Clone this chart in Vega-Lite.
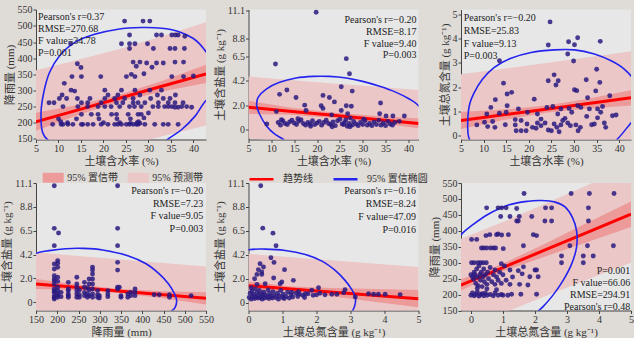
{
"$schema": "https://vega.github.io/schema/vega-lite/v6.json",
"background": "#dfdbd7",
"padding": {"left": 1, "top": 4.5, "right": 0, "bottom": 0},
"columns": 3,
"spacing": {"row": 43.5, "column": 42.5},
"bounds": "flush",
"datasets": {
"f1": [{"x":5,"fit":203,"clo":175,"chi":231,"plo":43,"phi":363},{"x":14,"fit":238.4,"clo":222.4,"chi":254.4,"plo":83.4,"phi":393.4},{"x":23.5,"fit":275.7,"clo":264.7,"chi":286.7,"plo":122.7,"phi":428.7},{"x":33,"fit":313,"clo":297,"chi":329,"plo":158,"phi":468},{"x":42.8,"fit":351.5,"clo":323.5,"chi":379.5,"plo":191.5,"phi":511.5}],
"f2": [{"x":5,"fit":2.1,"clo":1.5,"chi":2.7,"plo":-0.76,"phi":4.96},{"x":14,"fit":1.74,"clo":1.4,"chi":2.08,"plo":-1.14,"phi":4.62},{"x":23.5,"fit":1.36,"clo":1.11,"chi":1.61,"plo":-1.58,"phi":4.3},{"x":33,"fit":0.98,"clo":0.66,"chi":1.3,"plo":-2.04,"phi":4.0},{"x":42.2,"fit":0.61,"clo":0.15,"chi":1.07,"plo":-2.48,"phi":3.7}],
"f3": [{"x":5,"fit":0.62,"clo":0.27,"chi":0.97,"plo":-1.29,"phi":2.53},{"x":14.4,"fit":0.854,"clo":0.64,"chi":1.07,"plo":-1.05,"phi":2.75},{"x":23.8,"fit":1.088,"clo":0.94,"chi":1.24,"plo":-0.82,"phi":2.99},{"x":33.2,"fit":1.322,"clo":1.12,"chi":1.52,"plo":-0.59,"phi":3.23},{"x":42.6,"fit":1.556,"clo":1.24,"chi":1.87,"plo":-0.36,"phi":3.47}],
"f4": [{"x":150,"fit":1.71,"clo":1.24,"chi":2.18,"plo":-1.23,"phi":4.65},{"x":250,"fit":1.375,"clo":1.12,"chi":1.63,"plo":-1.57,"phi":4.32},{"x":350,"fit":1.04,"clo":0.84,"chi":1.24,"plo":-1.9,"phi":3.98},{"x":450,"fit":0.705,"clo":0.38,"chi":1.03,"plo":-2.25,"phi":3.66},{"x":550,"fit":0.37,"clo":-0.2,"chi":0.94,"plo":-2.6,"phi":3.34}],
"f5": [{"x":0,"fit":1.6,"clo":1.21,"chi":1.99,"plo":-1.35,"phi":4.55},{"x":1.25,"fit":1.3,"clo":1.08,"chi":1.52,"plo":-1.62,"phi":4.22},{"x":2.5,"fit":0.995,"clo":0.6,"chi":1.39,"plo":-1.93,"phi":3.92},{"x":3.75,"fit":0.69,"clo":0.09,"chi":1.29,"plo":-2.25,"phi":3.63},{"x":5,"fit":0.39,"clo":-0.41,"chi":1.19,"plo":-2.55,"phi":3.33}],
"f6": [{"x":-0.31,"fit":230,"clo":213,"chi":248,"plo":85,"phi":375},{"x":1,"fit":284.8,"clo":273,"chi":297,"plo":141.8,"phi":427.8},{"x":2.3,"fit":339.1,"clo":319,"chi":359,"plo":194.1,"phi":484.1},{"x":3.6,"fit":393.5,"clo":363.5,"chi":423.5,"plo":245.5,"phi":541.5},{"x":5,"fit":452,"clo":412,"chi":492,"plo":300,"phi":604}],
"e1": [{"i":0,"x":6.49,"y":169},{"i":1,"x":6.12,"y":231},{"i":2,"x":6.71,"y":293},{"i":3,"x":7.98,"y":355},{"i":4,"x":10.21,"y":407},{"i":5,"x":13.56,"y":448.5},{"i":6,"x":18.03,"y":474},{"i":7,"x":23.24,"y":490},{"i":8,"x":28.45,"y":495},{"i":9,"x":32.92,"y":493},{"i":10,"x":36.65,"y":483},{"i":11,"x":40.0,"y":461},{"i":12,"x":42.38,"y":428},{"i":13,"x":44.8,"y":376},{"i":14,"x":45.6,"y":314},{"i":15,"x":42.38,"y":262},{"i":16,"x":40.37,"y":220.5},{"i":17,"x":37.4,"y":179},{"i":18,"x":34.4,"y":150},{"i":19,"x":31.4,"y":117},{"i":20,"x":27,"y":96},{"i":21,"x":19.5,"y":86},{"i":22,"x":12.1,"y":107},{"i":23,"x":8.35,"y":138}],
"e2": [{"i":0,"x":12.5,"y":-0.83},{"i":1,"x":10.7,"y":-0.37},{"i":2,"x":8.9,"y":0.4},{"i":3,"x":7.4,"y":1.48},{"i":4,"x":6.8,"y":2.25},{"i":5,"x":7.1,"y":3.02},{"i":6,"x":8.9,"y":3.79},{"i":7,"x":11.8,"y":4.41},{"i":8,"x":15.4,"y":4.81},{"i":9,"x":19.1,"y":4.96},{"i":10,"x":22.7,"y":4.96},{"i":11,"x":26.4,"y":4.81},{"i":12,"x":30,"y":4.5},{"i":13,"x":33.7,"y":4.04},{"i":14,"x":37.3,"y":3.48},{"i":15,"x":40.2,"y":2.87},{"i":16,"x":42.05,"y":2.31},{"i":17,"x":44.6,"y":1.0},{"i":18,"x":45.3,"y":-0.2},{"i":19,"x":43.9,"y":-1.45},{"i":20,"x":37.3,"y":-2.7},{"i":21,"x":26.4,"y":-3.0},{"i":22,"x":17.6,"y":-2.4},{"i":23,"x":14,"y":-1.45}],
"e3": [{"i":0,"x":6.84,"y":-0.14},{"i":1,"x":6.47,"y":0.41},{"i":2,"x":6.84,"y":1.23},{"i":3,"x":7.95,"y":1.78},{"i":4,"x":9.79,"y":2.33},{"i":5,"x":12.37,"y":2.81},{"i":6,"x":16.05,"y":3.18},{"i":7,"x":20.5,"y":3.42},{"i":8,"x":25.6,"y":3.53},{"i":9,"x":30.1,"y":3.53},{"i":10,"x":34.5,"y":3.36},{"i":11,"x":38.2,"y":3.08},{"i":12,"x":41.1,"y":2.74},{"i":13,"x":43.3,"y":2.26},{"i":14,"x":44.8,"y":1.5},{"i":15,"x":44.1,"y":0.82},{"i":16,"x":42.4,"y":0.48},{"i":17,"x":39.6,"y":-0.14},{"i":18,"x":36,"y":-0.68},{"i":19,"x":25.6,"y":-1.23},{"i":20,"x":14.6,"y":-0.96},{"i":21,"x":8.7,"y":-0.55}],
"e4": [{"i":0,"x":150,"y":4.56},{"i":1,"x":181,"y":4.81},{"i":2,"x":220,"y":4.99},{"i":3,"x":260,"y":5.02},{"i":4,"x":307,"y":4.87},{"i":5,"x":366,"y":4.34},{"i":6,"x":410,"y":3.57},{"i":7,"x":440,"y":2.64},{"i":8,"x":462,"y":1.7},{"i":9,"x":476,"y":0.78},{"i":10,"x":481,"y":0.16},{"i":11,"x":477,"y":-0.5},{"i":12,"x":466,"y":-0.9},{"i":13,"x":432,"y":-1.9},{"i":14,"x":345,"y":-3.0},{"i":15,"x":230,"y":-3.3},{"i":16,"x":130,"y":-2.6},{"i":17,"x":80,"y":-0.8},{"i":18,"x":80,"y":1.8},{"i":19,"x":110,"y":3.8}],
"e5": [{"i":0,"x":0,"y":4.92},{"i":1,"x":0.49,"y":4.98},{"i":2,"x":1.08,"y":4.86},{"i":3,"x":1.67,"y":4.49},{"i":4,"x":2.16,"y":3.87},{"i":5,"x":2.55,"y":3.01},{"i":6,"x":2.84,"y":2.09},{"i":7,"x":3.04,"y":1.23},{"i":8,"x":3.14,"y":0.55},{"i":9,"x":3.14,"y":-0.06},{"i":10,"x":3.07,"y":-0.68},{"i":11,"x":2.84,"y":-1.6},{"i":12,"x":1.86,"y":-2.83},{"i":13,"x":0.39,"y":-3.14},{"i":14,"x":-1.08,"y":-2.52},{"i":15,"x":-1.86,"y":0},{"i":16,"x":-1.67,"y":2.7},{"i":17,"x":-0.88,"y":4.4}],
"e6": [{"i":0,"x":-0.31,"y":388},{"i":1,"x":0.02,"y":416},{"i":2,"x":0.54,"y":452},{"i":3,"x":1.17,"y":481},{"i":4,"x":1.79,"y":493},{"i":5,"x":2.21,"y":495},{"i":6,"x":2.63,"y":490},{"i":7,"x":2.94,"y":475},{"i":8,"x":3.17,"y":442},{"i":9,"x":3.3,"y":400},{"i":10,"x":3.3,"y":349},{"i":11,"x":3.15,"y":297},{"i":12,"x":2.89,"y":246},{"i":13,"x":2.57,"y":199},{"i":14,"x":2.26,"y":163},{"i":15,"x":2.05,"y":143},{"i":16,"x":1.58,"y":91},{"i":17,"x":0.54,"y":50},{"i":18,"x":-0.5,"y":60},{"i":19,"x":-1.13,"y":143},{"i":20,"x":-1.13,"y":246},{"i":21,"x":-0.81,"y":328}],
"p1": [{"x":24.7,"y":515},{"x":28.8,"y":515},{"x":30.3,"y":515},{"x":12.7,"y":445},{"x":24,"y":445},{"x":25.8,"y":445},{"x":27,"y":445},{"x":29.8,"y":445},{"x":25.8,"y":472},{"x":31.8,"y":472},{"x":32.9,"y":472},{"x":35.2,"y":472},{"x":36,"y":472},{"x":36.6,"y":472},{"x":38.1,"y":468},{"x":25.8,"y":430},{"x":31.1,"y":430},{"x":34.8,"y":430},{"x":35.9,"y":430},{"x":38,"y":430},{"x":14.2,"y":383},{"x":15,"y":371},{"x":26.6,"y":388},{"x":28.1,"y":388},{"x":29.6,"y":385},{"x":31.8,"y":385},{"x":33.3,"y":385},{"x":35.9,"y":388},{"x":37.8,"y":388},{"x":27.3,"y":375},{"x":30.8,"y":372},{"x":26.2,"y":350},{"x":29,"y":352},{"x":13,"y":343},{"x":15.1,"y":343},{"x":19.4,"y":343},{"x":25.1,"y":343},{"x":27,"y":343},{"x":35.2,"y":343},{"x":37.8,"y":343},{"x":40,"y":345},{"x":11.3,"y":322},{"x":12.8,"y":301},{"x":10.8,"y":286},{"x":13.6,"y":298},{"x":10.2,"y":275},{"x":11.8,"y":275},{"x":14.2,"y":275},{"x":17,"y":275},{"x":20.3,"y":275},{"x":22.5,"y":275},{"x":24.7,"y":275},{"x":26.6,"y":275},{"x":30.5,"y":275},{"x":33.3,"y":275},{"x":34.8,"y":275},{"x":21,"y":286},{"x":23.2,"y":286},{"x":28.1,"y":286},{"x":32,"y":286},{"x":36,"y":286},{"x":20.3,"y":301},{"x":24,"y":301},{"x":27,"y":301},{"x":30.3,"y":301},{"x":32.9,"y":301},{"x":7.9,"y":262},{"x":9,"y":262},{"x":15.1,"y":262},{"x":16.5,"y":262},{"x":19.5,"y":262},{"x":22.9,"y":262},{"x":24.3,"y":262},{"x":26.6,"y":262},{"x":27.7,"y":262},{"x":29.2,"y":262},{"x":32.2,"y":262},{"x":34.4,"y":262},{"x":35.9,"y":262},{"x":37.7,"y":262},{"x":11,"y":250},{"x":14.3,"y":250},{"x":16.5,"y":250},{"x":18.8,"y":250},{"x":20.3,"y":250},{"x":21.7,"y":250},{"x":23.6,"y":250},{"x":25.8,"y":250},{"x":26.9,"y":250},{"x":28.4,"y":250},{"x":31,"y":250},{"x":32.2,"y":250},{"x":33.6,"y":250},{"x":34.4,"y":250},{"x":35.2,"y":250},{"x":35.9,"y":248},{"x":36.6,"y":248},{"x":37.4,"y":250},{"x":38.5,"y":250},{"x":39.6,"y":248},{"x":15.1,"y":226},{"x":17.3,"y":226},{"x":18.8,"y":226},{"x":21.8,"y":226},{"x":22.9,"y":226},{"x":25.5,"y":226},{"x":27.7,"y":226},{"x":28.4,"y":226},{"x":30,"y":230},{"x":10,"y":212},{"x":14,"y":212},{"x":19,"y":212},{"x":23,"y":212},{"x":26,"y":212},{"x":29,"y":215},{"x":10.5,"y":203},{"x":12,"y":200},{"x":20,"y":200},{"x":23.6,"y":200},{"x":27.5,"y":200},{"x":27.8,"y":203},{"x":28.1,"y":198},{"x":26,"y":198},{"x":8.7,"y":195},{"x":10.6,"y":195},{"x":11,"y":195},{"x":12.1,"y":195},{"x":13.2,"y":195},{"x":15.1,"y":195},{"x":15.4,"y":195},{"x":16.5,"y":195},{"x":17.7,"y":195},{"x":19.5,"y":195},{"x":21,"y":195},{"x":22.5,"y":195},{"x":23.2,"y":195},{"x":24,"y":195},{"x":25.1,"y":195},{"x":25.8,"y":195},{"x":26.6,"y":195},{"x":27.3,"y":195},{"x":27.7,"y":195},{"x":29.2,"y":195},{"x":31.4,"y":195},{"x":33.3,"y":195},{"x":34.4,"y":195},{"x":36.6,"y":195}],
"p2": [{"x":19.8,"y":10.9},{"x":10.9,"y":6.1},{"x":26.4,"y":6.6},{"x":27.1,"y":5.2},{"x":25.3,"y":4.0},{"x":27.7,"y":3.6},{"x":13.4,"y":3.7},{"x":11.8,"y":3.3},{"x":15.4,"y":3.0},{"x":21.3,"y":3.2},{"x":22.7,"y":3.0},{"x":23.8,"y":2.6},{"x":17.3,"y":2.3},{"x":20.9,"y":2.25},{"x":21.3,"y":2.0},{"x":26.4,"y":2.25},{"x":27.5,"y":2.2},{"x":33.9,"y":2.5},{"x":11.1,"y":1.7},{"x":17.6,"y":1.8},{"x":25.3,"y":1.8},{"x":26.7,"y":1.5},{"x":33.7,"y":1.5},{"x":23.2,"y":1.4},{"x":9,"y":0.55},{"x":39.1,"y":1.3},{"x":36.6,"y":1.3},{"x":35.1,"y":1.3},{"x":11.5,"y":0.7},{"x":12,"y":0.45},{"x":12.5,"y":0.85},{"x":13,"y":0.6},{"x":13.5,"y":0.5},{"x":14,"y":0.75},{"x":14.5,"y":0.9},{"x":15,"y":0.65},{"x":15.5,"y":0.5},{"x":16,"y":0.8},{"x":16.5,"y":0.95},{"x":17,"y":0.6},{"x":17.5,"y":0.45},{"x":18,"y":0.7},{"x":18.5,"y":0.55},{"x":19,"y":0.85},{"x":19.5,"y":0.5},{"x":20,"y":0.65},{"x":20.5,"y":0.8},{"x":21,"y":0.45},{"x":21.5,"y":0.7},{"x":22,"y":0.9},{"x":22.5,"y":0.6},{"x":23,"y":0.5},{"x":23.5,"y":0.75},{"x":24,"y":0.4},{"x":24.5,"y":0.85},{"x":25,"y":1.0},{"x":25.5,"y":0.55},{"x":26,"y":0.7},{"x":26.3,"y":0.95},{"x":26.6,"y":0.35},{"x":27,"y":0.6},{"x":27.3,"y":1.1},{"x":27.7,"y":0.45},{"x":28,"y":0.8},{"x":28.5,"y":0.55},{"x":29,"y":0.4},{"x":29.5,"y":0.7},{"x":30,"y":0.5},{"x":30.5,"y":0.85},{"x":31,"y":0.45},{"x":31.5,"y":0.6},{"x":32,"y":0.4},{"x":32.5,"y":0.75},{"x":33,"y":0.5},{"x":33.5,"y":0.9},{"x":34,"y":0.45},{"x":34.5,"y":0.65},{"x":35,"y":0.4},{"x":35.5,"y":0.8},{"x":36,"y":0.55},{"x":36.5,"y":0.45},{"x":37,"y":0.7},{"x":38,"y":0.8},{"x":27.2,"y":0.3},{"x":25.8,"y":0.5},{"x":23.3,"y":0.3},{"x":30.2,"y":1.0},{"x":18.6,"y":0.35},{"x":15.8,"y":1.05},{"x":12.2,"y":0.95}],
"p3": [{"x":24.7,"y":4.68},{"x":13.5,"y":3.08},{"x":24.3,"y":3.73},{"x":28.8,"y":3.86},{"x":30.1,"y":3.74},{"x":30.8,"y":4.03},{"x":35.8,"y":3.88},{"x":28.6,"y":3.36},{"x":29.9,"y":3.07},{"x":14.4,"y":2.16},{"x":16.2,"y":1.78},{"x":15.2,"y":1.71},{"x":25.6,"y":2.5},{"x":24.3,"y":2.26},{"x":26.5,"y":2.26},{"x":26,"y":2.08},{"x":32.7,"y":2.3},{"x":35,"y":2.73},{"x":35.7,"y":2.19},{"x":34.8,"y":1.84},{"x":30.1,"y":1.89},{"x":30.6,"y":1.85},{"x":12.6,"y":1.48},{"x":21.2,"y":1.5},{"x":37.9,"y":1.64},{"x":33,"y":1.56},{"x":11.6,"y":1.16},{"x":15.2,"y":1.23},{"x":17.7,"y":1.1},{"x":24,"y":1.16},{"x":25.3,"y":1.2},{"x":27.1,"y":1.1},{"x":28.9,"y":1.12},{"x":30.8,"y":1.23},{"x":31.5,"y":1.16},{"x":33.4,"y":1.1},{"x":35.2,"y":1.1},{"x":36.3,"y":1.2},{"x":10.7,"y":0.89},{"x":13.5,"y":0.92},{"x":15,"y":0.96},{"x":19.7,"y":0.96},{"x":21.9,"y":0.89},{"x":26.4,"y":0.89},{"x":29.5,"y":0.96},{"x":35.9,"y":0.96},{"x":32.8,"y":0.79},{"x":35.2,"y":0.73},{"x":38.5,"y":0.82},{"x":39.3,"y":0.85},{"x":8.5,"y":0.44},{"x":10.9,"y":0.37},{"x":12,"y":0.58},{"x":12.5,"y":0.34},{"x":14.8,"y":0.45},{"x":17,"y":0.66},{"x":17,"y":0.44},{"x":18.3,"y":0.62},{"x":17.2,"y":0.2},{"x":18.3,"y":0.2},{"x":19.4,"y":0.2},{"x":20.8,"y":0.34},{"x":21.6,"y":0.3},{"x":22.7,"y":0.41},{"x":23.6,"y":0.52},{"x":24.3,"y":0.23},{"x":25,"y":0.2},{"x":25.6,"y":0.48},{"x":26.2,"y":0.34},{"x":26.7,"y":0.16},{"x":27.1,"y":0.44},{"x":27.5,"y":0.62},{"x":28,"y":0.71},{"x":28.6,"y":0.52},{"x":29.2,"y":0.41},{"x":30.4,"y":0.44},{"x":30.9,"y":0.2},{"x":31.4,"y":0.34},{"x":33.9,"y":0.45},{"x":34.5,"y":0.48},{"x":36.7,"y":0.52},{"x":37,"y":0.34},{"x":21.9,"y":0.52},{"x":22.7,"y":0.68},{"x":19.6,"y":0.48},{"x":10.2,"y":0.55}],
"p4": [{"x":193,"y":10.85},{"x":193,"y":6.88},{"x":193,"y":5.27},{"x":193,"y":3.57},{"x":193,"y":3.1},{"x":193,"y":2.48},{"x":193,"y":2.17},{"x":193,"y":2.0},{"x":193,"y":1.7},{"x":193,"y":1.24},{"x":193,"y":0.93},{"x":193,"y":0.62},{"x":193,"y":0.31},{"x":193,"y":0.45},{"x":193,"y":1.05},{"x":203,"y":6.45},{"x":201,"y":3.88},{"x":201,"y":3.63},{"x":201,"y":3.26},{"x":201,"y":2.33},{"x":201,"y":1.95},{"x":201,"y":1.4},{"x":201,"y":1.09},{"x":201,"y":0.62},{"x":201,"y":0.47},{"x":201,"y":0.8},{"x":209,"y":0.93},{"x":209,"y":0.53},{"x":226,"y":1.86},{"x":226,"y":1.24},{"x":226,"y":1.09},{"x":226,"y":0.78},{"x":226,"y":0.62},{"x":226,"y":0.47},{"x":246,"y":2.33},{"x":246,"y":1.71},{"x":246,"y":1.4},{"x":246,"y":1.09},{"x":246,"y":0.78},{"x":246,"y":0.47},{"x":252,"y":1.15},{"x":252,"y":0.71},{"x":252,"y":0.47},{"x":264,"y":1.86},{"x":264,"y":1.4},{"x":264,"y":0.93},{"x":264,"y":0.62},{"x":271,"y":1.33},{"x":271,"y":0.78},{"x":271,"y":0.47},{"x":275,"y":2.17},{"x":275,"y":1.71},{"x":275,"y":1.15},{"x":275,"y":0.62},{"x":283,"y":3.26},{"x":283,"y":3.0},{"x":283,"y":2.64},{"x":283,"y":2.17},{"x":283,"y":1.71},{"x":283,"y":1.24},{"x":283,"y":0.78},{"x":283,"y":0.47},{"x":295,"y":1.09},{"x":295,"y":0.71},{"x":295,"y":0.47},{"x":299,"y":0.62},{"x":299,"y":0.4},{"x":319,"y":1.09},{"x":319,"y":0.78},{"x":319,"y":0.53},{"x":342,"y":10.85},{"x":342,"y":6.88},{"x":342,"y":5.27},{"x":342,"y":3.72},{"x":342,"y":3.0},{"x":342,"y":1.4},{"x":342,"y":1.24},{"x":346,"y":1.4},{"x":350,"y":0.62},{"x":350,"y":0.47},{"x":366,"y":0.78},{"x":366,"y":0.47},{"x":373,"y":0.93},{"x":373,"y":0.62},{"x":383,"y":1.24},{"x":383,"y":0.93},{"x":383,"y":0.62},{"x":428,"y":0.71},{"x":440,"y":0.71},{"x":464,"y":0.71},{"x":464,"y":0.47},{"x":515,"y":0.62}],
"p5": [{"x":0.02,"y":0.5},{"x":0.05,"y":0.9},{"x":0.08,"y":0.35},{"x":0.1,"y":1.1},{"x":0.12,"y":0.6},{"x":0.15,"y":0.8},{"x":0.18,"y":0.4},{"x":0.2,"y":1.3},{"x":0.22,"y":0.55},{"x":0.25,"y":0.95},{"x":0.28,"y":0.45},{"x":0.3,"y":0.7},{"x":0.32,"y":1.15},{"x":0.35,"y":0.5},{"x":0.38,"y":0.85},{"x":0.4,"y":0.35},{"x":0.42,"y":0.65},{"x":0.45,"y":1.0},{"x":0.48,"y":0.45},{"x":0.5,"y":0.75},{"x":0.55,"y":0.55},{"x":0.58,"y":1.2},{"x":0.6,"y":0.4},{"x":0.62,"y":0.85},{"x":0.65,"y":0.6},{"x":0.7,"y":0.45},{"x":0.72,"y":1.05},{"x":0.75,"y":0.7},{"x":0.8,"y":0.5},{"x":0.85,"y":0.9},{"x":0.88,"y":0.35},{"x":0.9,"y":0.65},{"x":0.95,"y":1.15},{"x":1.0,"y":0.5},{"x":1.02,"y":0.8},{"x":1.05,"y":0.4},{"x":1.1,"y":0.6},{"x":1.15,"y":1.0},{"x":1.2,"y":0.45},{"x":1.25,"y":0.75},{"x":1.3,"y":0.55},{"x":1.4,"y":0.9},{"x":1.45,"y":0.6},{"x":1.5,"y":0.8},{"x":1.6,"y":0.7},{"x":1.65,"y":0.5},{"x":1.75,"y":0.85},{"x":1.9,"y":0.7},{"x":2.0,"y":0.75},{"x":2.1,"y":0.9},{"x":2.25,"y":0.75},{"x":2.45,"y":0.8},{"x":2.6,"y":0.8},{"x":2.8,"y":0.95},{"x":1.27,"y":1.0},{"x":1.47,"y":1.05},{"x":1.67,"y":0.85},{"x":2.06,"y":1.41},{"x":1.86,"y":1.17},{"x":2.84,"y":1.23},{"x":3.14,"y":0.55},{"x":3.53,"y":0.86},{"x":3.68,"y":0.8},{"x":3.82,"y":0.8},{"x":4.02,"y":0.8},{"x":4.46,"y":0.77},{"x":0.36,"y":10.85},{"x":0.42,"y":6.92},{"x":0.72,"y":6.46},{"x":0.81,"y":5.29},{"x":0.66,"y":4.18},{"x":0.75,"y":3.75},{"x":0.34,"y":3.63},{"x":0.44,"y":3.32},{"x":0.29,"y":3.08},{"x":1.06,"y":3.08},{"x":0.39,"y":2.86},{"x":0.25,"y":2.64},{"x":0.39,"y":2.64},{"x":0.18,"y":2.24},{"x":0.74,"y":2.31},{"x":1.32,"y":2.09},{"x":0.98,"y":1.94},{"x":0.93,"y":1.78},{"x":0.49,"y":1.78},{"x":0.25,"y":1.72},{"x":0.08,"y":1.41}],
"p6": [{"x":1.66,"y":517},{"x":3.13,"y":517},{"x":3.7,"y":517},{"x":4.47,"y":517},{"x":0.49,"y":472},{"x":0.85,"y":472},{"x":0.96,"y":472},{"x":1.1,"y":472},{"x":1.43,"y":470},{"x":2.33,"y":472},{"x":2.52,"y":472},{"x":3.67,"y":472},{"x":0.93,"y":445},{"x":1.22,"y":445},{"x":1.51,"y":445},{"x":1.9,"y":445},{"x":1.43,"y":431},{"x":1.48,"y":431},{"x":2.31,"y":431},{"x":2.52,"y":431},{"x":3.67,"y":431},{"x":0.47,"y":385},{"x":0.59,"y":388},{"x":0.8,"y":388},{"x":0.85,"y":390},{"x":0.96,"y":387},{"x":1.17,"y":388},{"x":1.95,"y":388},{"x":2.05,"y":385},{"x":0.02,"y":373},{"x":0.18,"y":373},{"x":0.33,"y":346},{"x":0.4,"y":346},{"x":0.49,"y":346},{"x":0.61,"y":346},{"x":0.7,"y":346},{"x":0.77,"y":346},{"x":1.01,"y":344},{"x":1.64,"y":353},{"x":3.09,"y":353},{"x":3.64,"y":353},{"x":4.45,"y":353},{"x":2.83,"y":321},{"x":3.51,"y":321},{"x":3.82,"y":321},{"x":0.02,"y":300},{"x":0.1,"y":300},{"x":0.22,"y":300},{"x":0.3,"y":300},{"x":0.38,"y":300},{"x":0.48,"y":300},{"x":0.95,"y":297},{"x":2.83,"y":300},{"x":3.51,"y":300},{"x":1.64,"y":287},{"x":0.75,"y":277},{"x":1.22,"y":277},{"x":1.48,"y":275},{"x":2.0,"y":277},{"x":2.05,"y":277},{"x":1.84,"y":256},{"x":2.1,"y":256},{"x":1.22,"y":232},{"x":1.52,"y":232},{"x":1.78,"y":230},{"x":1.27,"y":201},{"x":1.56,"y":201},{"x":2.05,"y":201},{"x":0.0,"y":262},{"x":0.05,"y":255},{"x":0.08,"y":248},{"x":0.1,"y":270},{"x":0.12,"y":262},{"x":0.15,"y":235},{"x":0.18,"y":280},{"x":0.2,"y":255},{"x":0.22,"y":228},{"x":0.25,"y":290},{"x":0.28,"y":262},{"x":0.3,"y":245},{"x":0.32,"y":270},{"x":0.35,"y":225},{"x":0.38,"y":256},{"x":0.4,"y":280},{"x":0.42,"y":240},{"x":0.45,"y":262},{"x":0.5,"y":232},{"x":0.52,"y":270},{"x":0.55,"y":250},{"x":0.6,"y":285},{"x":0.65,"y":240},{"x":0.7,"y":262},{"x":0.75,"y":232},{"x":0.8,"y":255},{"x":0.85,"y":245},{"x":0.9,"y":270},{"x":0.95,"y":235},{"x":1.0,"y":262},{"x":1.05,"y":290},{"x":1.1,"y":245},{"x":1.3,"y":255},{"x":1.6,"y":265},{"x":0.0,"y":198},{"x":0.05,"y":205},{"x":0.1,"y":196},{"x":0.15,"y":200},{"x":0.2,"y":208},{"x":0.25,"y":195},{"x":0.3,"y":200},{"x":0.35,"y":203},{"x":0.4,"y":196},{"x":0.45,"y":205},{"x":0.5,"y":198},{"x":0.6,"y":200},{"x":0.7,"y":196},{"x":0.75,"y":205},{"x":0.85,"y":198},{"x":0.95,"y":200},{"x":1.0,"y":198},{"x":1.15,"y":198},{"x":0.8,"y":215},{"x":0.5,"y":218},{"x":0.2,"y":220}]
},
"concat": [
{"width": 170, "height": 130, "layer": [
 {"data": {"name": "f1"}, "mark": {"type": "area", "clip": true},
  "encoding": {
   "x": {"field": "x", "type": "quantitative", "scale": {"domain": [5, 42.8], "nice": false, "zero": false}, "axis": {"title": "土壤含水率 (%)", "values": [5,10,15,20,25,30,35,40], "tickCount": 30, "labelOverlap": false, "format": "d"}},
   "y": {"field": "plo", "type": "quantitative", "scale": {"domain": [148, 551], "nice": false, "zero": false}, "axis": {"title": "降雨量 (mm)", "values": [150,200,250,300,350,400,450,500,550], "tickCount": 30, "labelOverlap": false, "format": "d"}},
   "y2": {"field": "phi"},
   "fill": {"datum": "95% 预测带", "type": "nominal", "scale": {"domain": ["95% 置信带", "95% 预测带"], "range": ["#ec9a9a", "#ebc7c7"]},
     "legend": {"orient": "none", "legendX": 6.7, "legendY": 157.5, "direction": "horizontal", "title": null, "symbolType": "M-1,-0.47H1V0.47H-1Z", "symbolSize": 441, "symbolOpacity": 1, "symbolStrokeWidth": 0, "columnPadding": 9, "labelOffset": 3.5}}}},
 {"data": {"name": "f1"}, "mark": {"type": "area", "clip": true},
  "encoding": {"x": {"field": "x", "type": "quantitative"}, "y": {"field": "clo", "type": "quantitative"}, "y2": {"field": "chi"}, "fill": {"datum": "95% 置信带", "type": "nominal"}}},
 {"data": {"name": "f1"}, "mark": {"type": "line", "clip": true, "strokeWidth": 3},
  "encoding": {"x": {"field": "x", "type": "quantitative"}, "y": {"field": "fit", "type": "quantitative"},
   "stroke": {"datum": "趋势线", "type": "nominal", "scale": {"domain": ["趋势线", "95%  置信椭圆"], "range": ["#ff0000", "#2424ee"]},
     "legend": {"orient": "none", "legendX": 212, "legendY": 156, "direction": "horizontal", "title": null, "symbolType": "stroke", "symbolSize": 576, "symbolStrokeWidth": 2.5, "columnPadding": 15, "labelOffset": 8}}}},
 {"data": {"name": "e1"}, "mark": {"type": "line", "clip": true, "strokeWidth": 1.6, "interpolate": "cardinal-closed"},
  "encoding": {"x": {"field": "x", "type": "quantitative"}, "y": {"field": "y", "type": "quantitative"}, "order": {"field": "i", "type": "quantitative"}, "stroke": {"datum": "95%  置信椭圆", "type": "nominal"}}},
 {"data": {"name": "p1"}, "mark": {"type": "circle", "size": 24, "color": "#2a1a80", "opacity": 0.85},
  "encoding": {"x": {"field": "x", "type": "quantitative"}, "y": {"field": "y", "type": "quantitative"}}},
 {"data": {"values": [{}]}, "mark": {"type": "text", "align": "left", "baseline": "top", "lineHeight": 12.3, "dy": 2.5},
  "encoding": {"x": {"datum": 5.44, "type": "quantitative"}, "y": {"datum": 552.5, "type": "quantitative"}, "text": {"value": ["Pearson's r=0.37", "RMSE=270.68", "F value=34.78", "P=0.001"]}}}
]},
{"width": 170, "height": 130, "layer": [
 {"data": {"name": "f2"}, "mark": {"type": "area", "clip": true, "color": "#ebc7c7"},
  "encoding": {
   "x": {"field": "x", "type": "quantitative", "scale": {"domain": [5, 42.2], "nice": false, "zero": false}, "axis": {"title": "土壤含水率 (%)", "values": [5,10,15,20,25,30,35,40], "tickCount": 30, "labelOverlap": false, "format": "d"}},
   "y": {"field": "plo", "type": "quantitative", "scale": {"domain": [-0.88, 11.15], "nice": false, "zero": false}, "axis": {"title": "土壤含盐量 (g kg⁻¹)", "values": [0, 2.31, 4.61, 6.78, 8.51, 11.1], "tickCount": 30, "labelOverlap": false, "labelExpr": "datum.value < 1 ? '0' : datum.value < 3.3 ? '2.0' : datum.value < 5.5 ? '4.2' : datum.value < 7.7 ? '6.5' : datum.value < 10 ? '8.8' : '11.1'"}},
   "y2": {"field": "phi"}}},
 {"data": {"name": "f2"}, "mark": {"type": "area", "clip": true, "color": "#ec9a9a"},
  "encoding": {"x": {"field": "x", "type": "quantitative"}, "y": {"field": "clo", "type": "quantitative"}, "y2": {"field": "chi"}}},
 {"data": {"name": "f2"}, "mark": {"type": "line", "clip": true, "strokeWidth": 3, "color": "#ff0000"},
  "encoding": {"x": {"field": "x", "type": "quantitative"}, "y": {"field": "fit", "type": "quantitative"}}},
 {"data": {"name": "e2"}, "mark": {"type": "line", "clip": true, "strokeWidth": 1.6, "color": "#2424ee", "interpolate": "cardinal-closed"},
  "encoding": {"x": {"field": "x", "type": "quantitative"}, "y": {"field": "y", "type": "quantitative"}, "order": {"field": "i", "type": "quantitative"}}},
 {"data": {"name": "p2"}, "mark": {"type": "circle", "size": 24, "color": "#2a1a80", "opacity": 0.85},
  "encoding": {"x": {"field": "x", "type": "quantitative"}, "y": {"field": "y", "type": "quantitative"}}},
 {"data": {"values": [{}]}, "mark": {"type": "text", "align": "right", "baseline": "top", "lineHeight": 11.7, "dy": 3},
  "encoding": {"x": {"datum": 41.76, "type": "quantitative"}, "y": {"datum": 10.89, "type": "quantitative"}, "text": {"value": ["Pearson's r=−0.20", "RMSE=8.17", "F value=9.40", "P=0.003"]}}}
]},
{"width": 170, "height": 130, "layer": [
 {"data": {"name": "f3"}, "mark": {"type": "area", "clip": true, "color": "#ebc7c7"},
  "encoding": {
   "x": {"field": "x", "type": "quantitative", "scale": {"domain": [5, 42.6], "nice": false, "zero": false}, "axis": {"title": "土壤含水率 (%)", "values": [5,10,15,20,25,30,35,40], "tickCount": 30, "labelOverlap": false, "format": "d"}},
   "y": {"field": "plo", "type": "quantitative", "scale": {"domain": [-0.16, 5.19], "nice": false, "zero": false}, "axis": {"title": "土壤总氮含量 (g kg⁻¹)", "values": [0,1,2,3,4,5], "tickCount": 30, "labelOverlap": false, "format": "d"}},
   "y2": {"field": "phi"}}},
 {"data": {"name": "f3"}, "mark": {"type": "area", "clip": true, "color": "#ec9a9a"},
  "encoding": {"x": {"field": "x", "type": "quantitative"}, "y": {"field": "clo", "type": "quantitative"}, "y2": {"field": "chi"}}},
 {"data": {"name": "f3"}, "mark": {"type": "line", "clip": true, "strokeWidth": 3, "color": "#ff0000"},
  "encoding": {"x": {"field": "x", "type": "quantitative"}, "y": {"field": "fit", "type": "quantitative"}}},
 {"data": {"name": "e3"}, "mark": {"type": "line", "clip": true, "strokeWidth": 1.6, "color": "#2424ee", "interpolate": "cardinal-closed"},
  "encoding": {"x": {"field": "x", "type": "quantitative"}, "y": {"field": "y", "type": "quantitative"}, "order": {"field": "i", "type": "quantitative"}}},
 {"data": {"name": "p3"}, "mark": {"type": "circle", "size": 24, "color": "#2a1a80", "opacity": 0.85},
  "encoding": {"x": {"field": "x", "type": "quantitative"}, "y": {"field": "y", "type": "quantitative"}}},
 {"data": {"values": [{}]}, "mark": {"type": "text", "align": "left", "baseline": "top", "lineHeight": 12.8, "dy": 3},
  "encoding": {"x": {"datum": 5.6, "type": "quantitative"}, "y": {"datum": 5.17, "type": "quantitative"}, "text": {"value": ["Pearson's r=−0.20", "RMSE=25.83", "F value=9.13", "P=0.003"]}}}
]},
{"width": 170, "height": 127.5, "layer": [
 {"data": {"name": "f4"}, "mark": {"type": "area", "clip": true, "color": "#ebc7c7"},
  "encoding": {
   "x": {"field": "x", "type": "quantitative", "scale": {"domain": [150, 550], "nice": false, "zero": false}, "axis": {"title": "降雨量 (mm)", "values": [150,200,250,300,350,400,450,500,550], "tickCount": 30, "labelOverlap": false, "format": "d"}},
   "y": {"field": "plo", "type": "quantitative", "scale": {"domain": [-0.76, 11.1], "nice": false, "zero": false}, "axis": {"title": "土壤含盐量 (g kg⁻¹)", "values": [0, 2.22, 4.44, 6.66, 8.88, 11.1], "tickCount": 30, "labelOverlap": false, "labelExpr": "datum.value < 1 ? '0' : datum.value < 3.3 ? '2.0' : datum.value < 5.5 ? '4.2' : datum.value < 7.7 ? '6.5' : datum.value < 10 ? '8.8' : '11.1'"}},
   "y2": {"field": "phi"}}},
 {"data": {"name": "f4"}, "mark": {"type": "area", "clip": true, "color": "#ec9a9a"},
  "encoding": {"x": {"field": "x", "type": "quantitative"}, "y": {"field": "clo", "type": "quantitative"}, "y2": {"field": "chi"}}},
 {"data": {"name": "f4"}, "mark": {"type": "line", "clip": true, "strokeWidth": 3, "color": "#ff0000"},
  "encoding": {"x": {"field": "x", "type": "quantitative"}, "y": {"field": "fit", "type": "quantitative"}}},
 {"data": {"name": "e4"}, "mark": {"type": "line", "clip": true, "strokeWidth": 1.6, "color": "#2424ee", "interpolate": "cardinal-closed"},
  "encoding": {"x": {"field": "x", "type": "quantitative"}, "y": {"field": "y", "type": "quantitative"}, "order": {"field": "i", "type": "quantitative"}}},
 {"data": {"name": "p4"}, "mark": {"type": "circle", "size": 24, "color": "#2a1a80", "opacity": 0.85},
  "encoding": {"x": {"field": "x", "type": "quantitative"}, "y": {"field": "y", "type": "quantitative"}}},
 {"data": {"values": [{}]}, "mark": {"type": "text", "align": "right", "baseline": "top", "lineHeight": 12.5, "dy": 3},
  "encoding": {"x": {"datum": 543.6, "type": "quantitative"}, "y": {"datum": 11.07, "type": "quantitative"}, "text": {"value": ["Pearson's r=−0.20", "RMSE=7.23", "F value=9.05", "P=0.003"]}}}
]},
{"width": 170, "height": 127.5, "layer": [
 {"data": {"name": "f5"}, "mark": {"type": "area", "clip": true, "color": "#ebc7c7"},
  "encoding": {
   "x": {"field": "x", "type": "quantitative", "scale": {"domain": [0, 5], "nice": false, "zero": false}, "axis": {"title": "土壤总氮含量 (g kg⁻¹)", "values": [0,1,2,3,4,5], "tickCount": 30, "labelOverlap": false, "format": "d"}},
   "y": {"field": "plo", "type": "quantitative", "scale": {"domain": [-0.7, 11.1], "nice": false, "zero": false}, "axis": {"title": "土壤含盐量 (g kg⁻¹)", "values": [0, 2.22, 4.44, 6.66, 8.88, 11.1], "tickCount": 30, "labelOverlap": false, "labelExpr": "datum.value < 1 ? '0' : datum.value < 3.3 ? '2.0' : datum.value < 5.5 ? '4.2' : datum.value < 7.7 ? '6.5' : datum.value < 10 ? '8.8' : '11.1'"}},
   "y2": {"field": "phi"}}},
 {"data": {"name": "f5"}, "mark": {"type": "area", "clip": true, "color": "#ec9a9a"},
  "encoding": {"x": {"field": "x", "type": "quantitative"}, "y": {"field": "clo", "type": "quantitative"}, "y2": {"field": "chi"}}},
 {"data": {"name": "f5"}, "mark": {"type": "line", "clip": true, "strokeWidth": 3, "color": "#ff0000"},
  "encoding": {"x": {"field": "x", "type": "quantitative"}, "y": {"field": "fit", "type": "quantitative"}}},
 {"data": {"name": "e5"}, "mark": {"type": "line", "clip": true, "strokeWidth": 1.6, "color": "#2424ee", "interpolate": "cardinal-closed"},
  "encoding": {"x": {"field": "x", "type": "quantitative"}, "y": {"field": "y", "type": "quantitative"}, "order": {"field": "i", "type": "quantitative"}}},
 {"data": {"name": "p5"}, "mark": {"type": "circle", "size": 24, "color": "#2a1a80", "opacity": 0.85},
  "encoding": {"x": {"field": "x", "type": "quantitative"}, "y": {"field": "y", "type": "quantitative"}}},
 {"data": {"values": [{}]}, "mark": {"type": "text", "align": "right", "baseline": "top", "lineHeight": 12.8, "dy": 3},
  "encoding": {"x": {"datum": 4.93, "type": "quantitative"}, "y": {"datum": 11.07, "type": "quantitative"}, "text": {"value": ["Pearson's r=−0.16", "RMSE=8.24", "F value=47.09", "P=0.016"]}}}
]},
{"width": 170, "height": 127.5, "layer": [
 {"data": {"name": "f6"}, "mark": {"type": "area", "clip": true, "color": "#ebc7c7"},
  "encoding": {
   "x": {"field": "x", "type": "quantitative", "scale": {"domain": [-0.31, 5], "nice": false, "zero": false}, "axis": {"title": "土壤总氮含量 (g kg⁻¹)", "values": [0,1,2,3,4,5], "tickCount": 30, "labelOverlap": false, "format": "d"}},
   "y": {"field": "plo", "type": "quantitative", "scale": {"domain": [150, 550], "nice": false, "zero": false}, "axis": {"title": "降雨量 (mm)", "values": [150,200,250,300,350,400,450,500,550], "tickCount": 30, "labelOverlap": false, "format": "d"}},
   "y2": {"field": "phi"}}},
 {"data": {"name": "f6"}, "mark": {"type": "area", "clip": true, "color": "#ec9a9a"},
  "encoding": {"x": {"field": "x", "type": "quantitative"}, "y": {"field": "clo", "type": "quantitative"}, "y2": {"field": "chi"}}},
 {"data": {"name": "f6"}, "mark": {"type": "line", "clip": true, "strokeWidth": 3, "color": "#ff0000"},
  "encoding": {"x": {"field": "x", "type": "quantitative"}, "y": {"field": "fit", "type": "quantitative"}}},
 {"data": {"name": "e6"}, "mark": {"type": "line", "clip": true, "strokeWidth": 1.6, "color": "#2424ee", "interpolate": "cardinal-closed"},
  "encoding": {"x": {"field": "x", "type": "quantitative"}, "y": {"field": "y", "type": "quantitative"}, "order": {"field": "i", "type": "quantitative"}}},
 {"data": {"name": "p6"}, "mark": {"type": "circle", "size": 24, "color": "#2a1a80", "opacity": 0.85},
  "encoding": {"x": {"field": "x", "type": "quantitative"}, "y": {"field": "y", "type": "quantitative"}}},
 {"data": {"values": [{}]}, "mark": {"type": "text", "align": "right", "baseline": "top", "lineHeight": 12, "dy": 3},
  "encoding": {"x": {"datum": 4.98, "type": "quantitative"}, "y": {"datum": 299, "type": "quantitative"}, "text": {"value": ["P=0.001", "F value=66.06", "RMSE=294.91", "Pearson's r=0.48"]}}}
]}
],
"config": {
 "view": {"fill": "#e7e7e7", "stroke": null},
 "axis": {"labelFont": "Liberation Serif", "labelFontSize": 10, "labelColor": "#333", "titleFont": "Liberation Serif, Noto Sans CJK SC", "titleFontSize": 11, "titleFontWeight": "normal", "titleColor": "#333", "domainColor": "#444", "tickColor": "#444", "tickSize": 3, "labelPadding": 1, "grid": false, "labelOverlap": false, "labelFlush": false},
 "axisX": {"titlePadding": 2},
 "axisY": {"titlePadding": 2},
 "legend": {"labelFont": "Liberation Serif, Noto Sans CJK SC", "labelFontSize": 10, "labelColor": "#333", "padding": 0},
 "text": {"font": "Liberation Serif", "fontSize": 10, "color": "#222"}
}
}
